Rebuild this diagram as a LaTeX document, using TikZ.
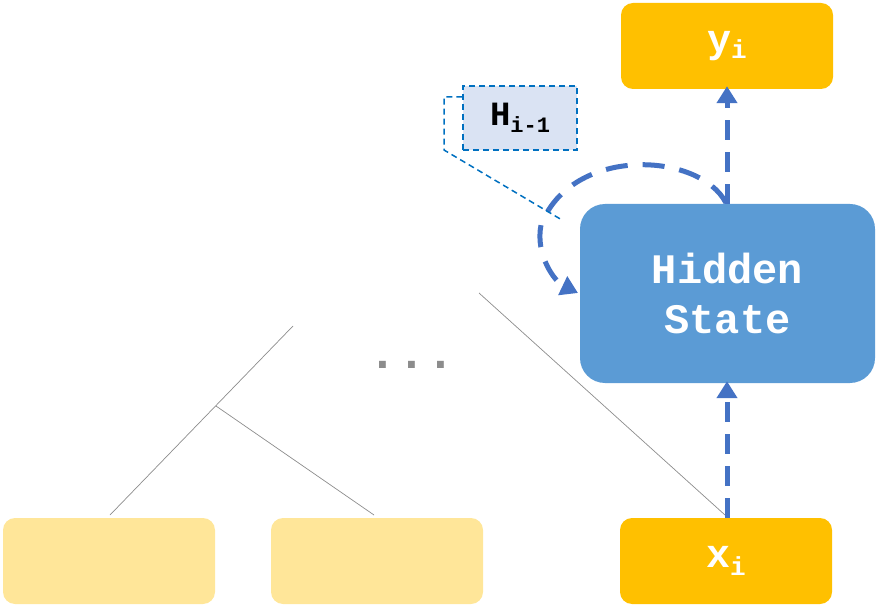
\documentclass[tikz,border=0pt]{standalone}
\usepackage{fontspec}
\setmainfont{Liberation Serif}
\setmonofont{Liberation Mono}
\usetikzlibrary{arrows.meta}
\definecolor{gold}{HTML}{FFC000}
\definecolor{lightgold}{HTML}{FFE699}
\definecolor{hsblue}{HTML}{5B9BD5}
\definecolor{arrblue}{HTML}{4472C4}
\definecolor{callblue}{HTML}{0070C0}
\definecolor{hfill}{HTML}{DAE3F3}
\definecolor{treegray}{HTML}{8C8C8C}
\pgfdeclarelayer{bg}
\pgfsetlayers{bg,main}
\tikzset{
  goldbox/.style={fill=gold, draw=none, rounded corners=12pt, minimum width=212pt, minimum height=86pt, inner sep=0pt, text=white, font=\ttfamily\bfseries},
  lightbox/.style={fill=lightgold, draw=none, rounded corners=12pt, minimum width=212pt, minimum height=86pt, inner sep=0pt},
  hsbox/.style={fill=hsblue, draw=none, rounded corners=25pt, minimum width=295pt, minimum height=179pt, inner sep=0pt, text=white, align=center, font=\ttfamily\bfseries\fontsize{42}{50}\selectfont},
  hbox/.style={fill=hfill, draw=callblue, line width=1.5pt, dash pattern=on 6pt off 4pt, minimum width=114pt, minimum height=64pt, inner sep=0pt, font=\ttfamily\bfseries},
  flow/.style={draw=arrblue, line width=5pt, dash pattern=on 20pt off 12pt, -{Triangle[width=20pt,length=17pt]}},
  loopflow/.style={draw=arrblue, line width=5pt, dash pattern=on 22pt off 15pt, -{Triangle[width=20pt,length=17pt]}},
  callout/.style={draw=callblue, line width=1.5pt, dash pattern=on 6pt off 4pt},
  treeline/.style={draw=treegray, line width=0.7pt},
}
\begin{document}
\begin{tikzpicture}[x=1pt,y=-1pt]
\useasboundingbox (0,0) rectangle (878,612);
% boxes
\node[goldbox] (yi) at (727,46) {\fontsize{40}{40}\selectfont y\raisebox{-6pt}{\fontsize{26}{26}\selectfont i}};
\node[hsbox] (hs) at (727.5,293.5) {Hidden\\State};
\node[goldbox] (xi) at (726,561) {\fontsize{40}{40}\selectfont x\raisebox{-8pt}{\fontsize{26}{26}\selectfont i}};
\node[lightbox] (l1) at (109,561) {};
\node[lightbox] (l2) at (377,561) {};
\node[hbox] (H) at (520,118) {\fontsize{34}{34}\selectfont H\raisebox{-7pt}{\fontsize{22}{22}\selectfont i-1}};
% dots
\node[text=treegray, font=\ttfamily\bfseries\fontsize{48}{48}\selectfont, inner sep=0pt] (dots) at (412,365) {...};
% tree lines
\coordinate (t1a) at (110,515);
\coordinate (t1b) at (293,326);
\coordinate (tj) at (216,406);
\coordinate (t2b) at (374,515);
\coordinate (t3a) at (479,293);
\coordinate (t3b) at (725,515);
\draw[treeline] (t1a) -- (t1b);
\draw[treeline] (tj) -- (t2b);
\draw[treeline] (t3a) -- (t3b);
% arrows
\draw[flow] (xi.north -| 727,0) -- ([yshift=2pt]hs.south -| 727,0);
\draw[flow] (hs.north -| 727,0) -- ([yshift=3pt]yi.south -| 727,0);
% recurrent loop
\coordinate (ls) at (726,203);
\coordinate (lm) at (541,225);
\coordinate (le) at (578,293);
\begin{pgfonlayer}{bg}
\draw[loopflow] (ls) .. controls (700,152) and (572,145) .. (lm) .. controls (535,255) and (555,282) .. (le);
\end{pgfonlayer}
% callout
\coordinate (c1) at (444,97);
\coordinate (c2) at (444,150);
\coordinate (c3) at (562,220);
\draw[callout] (H.west |- c1) -- (c1) -- (c2) -- (c3);
\end{tikzpicture}
\end{document}
